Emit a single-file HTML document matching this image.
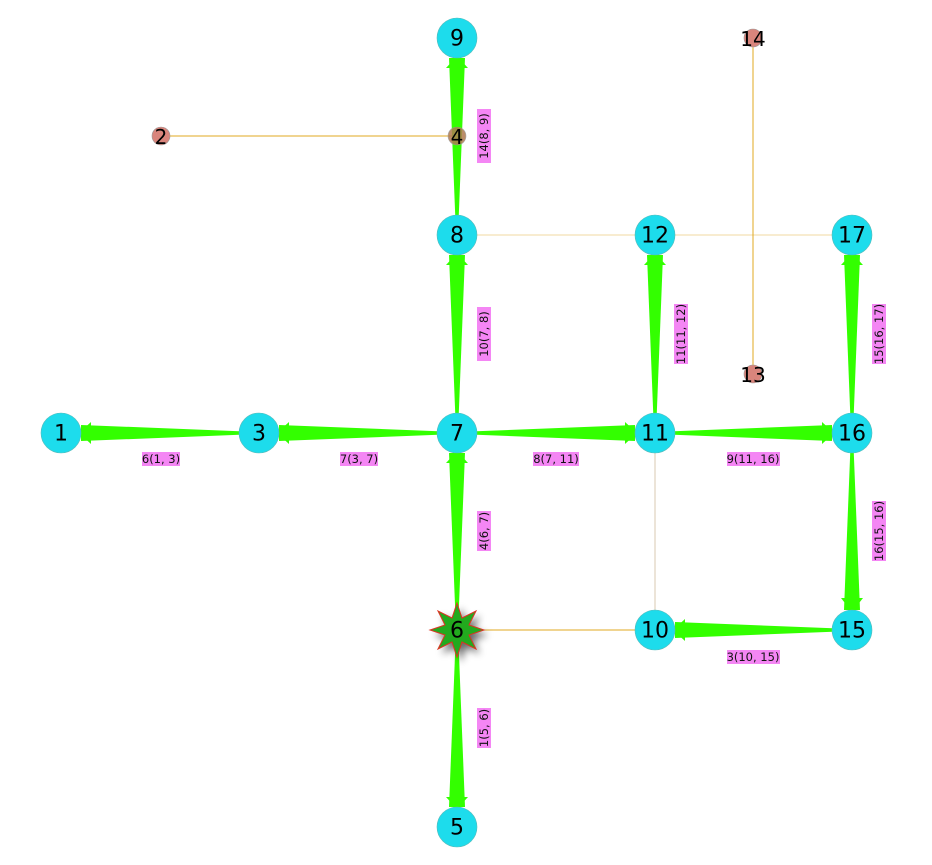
<!DOCTYPE html>
<html><head><meta charset="utf-8"><style>
html,body{margin:0;padding:0;background:#fff;}
svg{display:block;font-family:"DejaVu Sans","Liberation Sans",sans-serif;}
.lb{fill:#f486f4;}
.lt{font-size:11.5px;fill:#111;text-anchor:middle;dominant-baseline:central;}
.n{fill:#1ddcec;stroke:#5bb;stroke-width:0.6;}
.nt{font-size:22px;fill:#000;text-anchor:middle;dominant-baseline:central;}
.s{fill:#d9857c;stroke:#999;stroke-width:0.6;}
.e{fill:#33ff00;}
</style></head><body>
<svg width="932" height="865" viewBox="0 0 932 865">
<defs><filter id="sh" x="-50%" y="-50%" width="200%" height="200%"><feGaussianBlur stdDeviation="4"/></filter></defs>
<line x1="161" y1="136" x2="457" y2="136" stroke="#e0a820" stroke-width="1"/>
<line x1="457" y1="235" x2="852" y2="235" stroke="#f0d8a0" stroke-width="1"/>
<line x1="753" y1="38" x2="753" y2="374" stroke="#e0a820" stroke-width="1"/>
<line x1="655" y1="433" x2="655" y2="630" stroke="#d8c8b0" stroke-width="1"/>
<line x1="457" y1="630" x2="655" y2="630" stroke="#e0a820" stroke-width="1"/>
<g class="e">
<polygon points="259,432 259,434 81,441 81,425"/><polygon points="79,433 91,422 91,444"/>
<polygon points="457,432 457,434 279,441 279,425"/><polygon points="277,433 289,422 289,444"/>
<polygon points="457,432 457,434 635,441 635,425"/><polygon points="637,433 625,422 625,444"/>
<polygon points="655,432 655,434 832,441 832,425"/><polygon points="834,433 822,422 822,444"/>
<polygon points="852,629 852,631 675,638 675,622"/><polygon points="673,630 685,619 685,641"/>
<polygon points="456,433 458,433 465,255 449,255"/><polygon points="457,253 446,265 468,265"/>
<polygon points="456,235 458,235 465,58 449,58"/><polygon points="457,56 446,68 468,68"/>
<polygon points="654,433 656,433 663,255 647,255"/><polygon points="655,253 644,265 666,265"/>
<polygon points="851,433 853,433 860,255 844,255"/><polygon points="852,253 841,265 863,265"/>
<polygon points="456,630 458,630 465,453 449,453"/><polygon points="457,451 446,463 468,463"/>
<polygon points="851,433 853,433 860,610 844,610"/><polygon points="852,612 841,598 863,598"/>
<polygon points="456,630 458,630 465,807 449,807"/><polygon points="457,809 446,797 468,797"/>
</g>
<g>
<rect class="lb" x="142" y="452" width="38" height="14"/><text class="lt" x="161" y="459">6(1, 3)</text>
<rect class="lb" x="340" y="452" width="38" height="14"/><text class="lt" x="359" y="459">7(3, 7)</text>
<rect class="lb" x="533" y="452" width="46" height="14"/><text class="lt" x="556" y="459">8(7, 11)</text>
<rect class="lb" x="727" y="452" width="53" height="14"/><text class="lt" x="753" y="459">9(11, 16)</text>
<rect class="lb" x="727" y="650" width="53" height="14"/><text class="lt" x="753" y="657">3(10, 15)</text>
<g transform="translate(484,136) rotate(-90)"><rect class="lb" x="-27" y="-7" width="54" height="14"/><text class="lt" x="0" y="0">14(8, 9)</text></g>
<g transform="translate(484,334) rotate(-90)"><rect class="lb" x="-27" y="-7" width="54" height="14"/><text class="lt" x="0" y="0">10(7, 8)</text></g>
<g transform="translate(681,334) rotate(-90)"><rect class="lb" x="-30" y="-7" width="60" height="14"/><text class="lt" x="0" y="0">11(11, 12)</text></g>
<g transform="translate(879,334) rotate(-90)"><rect class="lb" x="-30" y="-7" width="60" height="14"/><text class="lt" x="0" y="0">15(16, 17)</text></g>
<g transform="translate(484,531) rotate(-90)"><rect class="lb" x="-20" y="-7" width="40" height="14"/><text class="lt" x="0" y="0">4(6, 7)</text></g>
<g transform="translate(879,531) rotate(-90)"><rect class="lb" x="-30" y="-7" width="60" height="14"/><text class="lt" x="0" y="0">16(15, 16)</text></g>
<g transform="translate(484,728) rotate(-90)"><rect class="lb" x="-20" y="-7" width="40" height="14"/><text class="lt" x="0" y="0">1(5, 6)</text></g>
</g>
<circle class="s" cx="161" cy="136" r="9"/><text class="nt" x="161" y="137" style="font-size:20px">2</text>
<circle class="s" cx="457" cy="136" r="9" style="fill:#b07a50;opacity:0.85"/><text class="nt" x="457" y="137" style="font-size:20px">4</text>
<circle class="s" cx="753" cy="38" r="9"/><text class="nt" x="753" y="39" style="font-size:20px">14</text>
<circle class="s" cx="753" cy="374" r="9"/><text class="nt" x="753" y="375" style="font-size:20px">13</text>
<g>
<circle class="n" cx="61" cy="433" r="20"/><text class="nt" x="61" y="434">1</text>
<circle class="n" cx="259" cy="433" r="20"/><text class="nt" x="259" y="434">3</text>
<circle class="n" cx="457" cy="433" r="20"/><text class="nt" x="457" y="434">7</text>
<circle class="n" cx="655" cy="433" r="20"/><text class="nt" x="655" y="434">11</text>
<circle class="n" cx="852" cy="433" r="20"/><text class="nt" x="852" y="434">16</text>
<circle class="n" cx="457" cy="38" r="20"/><text class="nt" x="457" y="39">9</text>
<circle class="n" cx="457" cy="235" r="20"/><text class="nt" x="457" y="236">8</text>
<circle class="n" cx="655" cy="235" r="20"/><text class="nt" x="655" y="236">12</text>
<circle class="n" cx="852" cy="235" r="20"/><text class="nt" x="852" y="236">17</text>
<circle class="n" cx="655" cy="630" r="20"/><text class="nt" x="655" y="631">10</text>
<circle class="n" cx="852" cy="630" r="20"/><text class="nt" x="852" y="631">15</text>
<circle class="n" cx="457" cy="827" r="20"/><text class="nt" x="457" y="828">5</text>
</g>
<g transform="translate(457,630)">
<polygon transform="translate(4,5)" filter="url(#sh)" fill="#000" opacity="0.6" points="0,-27 5,-12 19,-19 12,-5 27,0 12,5 19,19 5,12 0,27 -5,12 -19,19 -12,5 -27,0 -12,-5 -19,-19 -5,-12"/>
<polygon fill="#22aa1e" stroke="#dd3322" stroke-width="1" points="0,-27 5,-12 19,-19 12,-5 27,0 12,5 19,19 5,12 0,27 -5,12 -19,19 -12,5 -27,0 -12,-5 -19,-19 -5,-12"/>
<text class="nt" x="0" y="1">6</text>
</g>
</svg>
</body></html>
